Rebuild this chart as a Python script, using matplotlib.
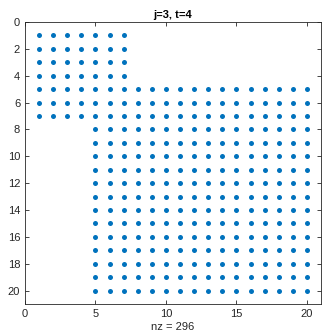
import numpy as np
import matplotlib
matplotlib.use("Agg")
import matplotlib.pyplot as plt

# 稀疏模式: 每行非零元素的起止列
rows = list(range(1, 21))
col_first = [1, 1, 1, 1, 1, 1, 1, 5, 5, 5, 5, 5, 5, 5, 5, 5, 5, 5, 5, 5]
col_last = [7, 7, 7, 7, 20, 20, 20, 20, 20, 20, 20, 20, 20, 20, 20, 20, 20, 20, 20, 20]
title = "j=3, t=4"

xs, ys = [], []
for r, a, b in zip(rows, col_first, col_last):
    for c in range(a, b + 1):
        xs.append(c)
        ys.append(r)
nz = len(xs)

plt.rcParams["font.family"] = ["Liberation Sans", "DejaVu Sans"]
fig = plt.figure(figsize=(3.22, 3.36), dpi=100)
ax = fig.add_axes([25 / 322, 1 - 304 / 336, 296 / 322, 282 / 336])
ax.plot(xs, ys, "o", color="#0072BD", markersize=3.6, markeredgewidth=0)
ax.set_xlim(0, 21)
ax.set_ylim(21, 0)
ax.set_xticks([0, 5, 10, 15, 20])
ax.set_yticks(range(0, 21, 2))
ax.tick_params(direction="in", top=True, right=True, labelsize=8,
               colors="#262626", length=3, width=0.6)
for s in ax.spines.values():
    s.set_color("#262626")
    s.set_linewidth(0.6)
ax.set_title(title, fontsize=8, fontweight="bold", pad=3)
ax.set_xlabel(f"nz = {nz}", fontsize=8, color="#262626", labelpad=2)
fig.savefig("out.png", dpi=100)
